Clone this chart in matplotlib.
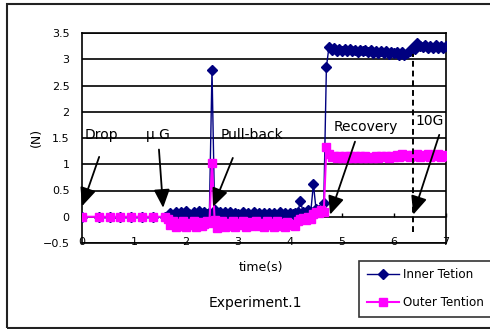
import matplotlib
matplotlib.use("Agg")
import matplotlib.pyplot as plt
from matplotlib.patches import Rectangle

plt.rcParams['font.family'] = ['DejaVu Sans']

# ---- data ---------------------------------------------------------------
# slow logging before release
t_pre = [0.0, 0.32, 0.53, 0.74, 0.95, 1.15, 1.36, 1.60]
inner_pre = [0.0, 0.0, 0.0, 0.0, 0.0, 0.0, 0.0, 0.0]
outer_pre = [0.0, 0.0, 0.0, 0.0, 0.0, 0.0, 0.0, 0.0]

# fast logging during the flight
t_fast = [1.65, 1.70, 1.75, 1.80, 1.85, 1.90, 1.95, 2.00, 2.05, 2.10,
          2.15, 2.20, 2.25, 2.30, 2.35, 2.40, 2.45, 2.50, 2.55, 2.60,
          2.65, 2.70, 2.75, 2.80, 2.85, 2.90, 2.95, 3.00, 3.05, 3.10,
          3.15, 3.20, 3.25, 3.30, 3.35, 3.40, 3.45, 3.50, 3.55, 3.60,
          3.65, 3.70, 3.75, 3.80, 3.85, 3.90, 3.95, 4.00, 4.05, 4.10,
          4.15, 4.20, 4.25, 4.30, 4.35, 4.40, 4.45, 4.50, 4.55, 4.60,
          4.65, 4.70, 4.75, 4.80, 4.85, 4.90, 4.95, 5.00, 5.05, 5.10,
          5.15, 5.20, 5.25, 5.30, 5.35, 5.40, 5.45, 5.50, 5.55, 5.60,
          5.65, 5.70, 5.75, 5.80, 5.85, 5.90, 5.95, 6.00, 6.05, 6.10,
          6.15, 6.20, 6.25, 6.30, 6.35, 6.40, 6.45, 6.50, 6.55, 6.60,
          6.65, 6.70, 6.75, 6.80, 6.85, 6.90, 6.95, 7.00]

inner_fast = [0.02, 0.08, 0.04, 0.10, 0.05, 0.09, 0.03, 0.11, 0.06, 0.04,
              0.10, 0.06, 0.11, 0.04, 0.09, 0.05, 0.08, 2.80, 0.12, 0.05,
              0.10, 0.04, 0.09, 0.05, 0.10, 0.03, 0.08, 0.05, 0.02, 0.09,
              0.04, 0.07, 0.03, 0.09, 0.04, 0.07, 0.02, 0.08, 0.04, 0.07,
              0.03, 0.08, 0.04, 0.09, 0.03, 0.07, 0.04, 0.08, 0.05, 0.07,
              0.09, 0.30, 0.10, 0.08, 0.12, 0.10, 0.62, 0.15, 0.12, 0.10,
              0.27, 2.85, 3.24, 3.17, 3.21, 3.16, 3.20, 3.15, 3.20, 3.16,
              3.19, 3.15, 3.18, 3.14, 3.18, 3.15, 3.17, 3.13, 3.17, 3.12,
              3.16, 3.11, 3.15, 3.12, 3.15, 3.10, 3.14, 3.11, 3.13, 3.09,
              3.13, 3.08, 3.12, 3.15, 3.21, 3.20, 3.31, 3.26, 3.23, 3.27,
              3.22, 3.26, 3.22, 3.27, 3.21, 3.25, 3.22, 3.25]

outer_fast = [-0.05, -0.15, -0.09, -0.19, -0.11, -0.17, -0.08, -0.20, -0.12, -0.16,
              -0.09, -0.19, -0.10, -0.18, -0.13, -0.08, -0.12, 1.02, -0.06, -0.22,
              -0.15, -0.09, -0.19, -0.11, -0.17, -0.08, -0.20, -0.12, -0.16, -0.09,
              -0.19, -0.10, -0.18, -0.13, -0.08, -0.17, -0.11, -0.20, -0.09, -0.16,
              -0.12, -0.19, -0.08, -0.17, -0.11, -0.20, -0.10, -0.16, -0.13, -0.18,
              -0.09, -0.05, -0.02, -0.06, -0.01, -0.04, 0.05, 0.10, 0.07, 0.12,
              0.10, 1.33, 1.19, 1.13, 1.16, 1.11, 1.15, 1.12, 1.16, 1.11,
              1.15, 1.12, 1.16, 1.11, 1.15, 1.12, 1.16, 1.11, 1.14, 1.12,
              1.16, 1.11, 1.15, 1.13, 1.16, 1.12, 1.15, 1.13, 1.18, 1.14,
              1.19, 1.15, 1.18, 1.14, 1.17, 1.15, 1.19, 1.14, 1.18, 1.15,
              1.19, 1.14, 1.18, 1.15, 1.19, 1.14, 1.18, 1.16]

t_inner = t_pre + t_fast
inner = inner_pre + inner_fast
t_outer = t_pre + t_fast
outer = outer_pre + outer_fast

t_10g = 6.37

# event labels: (text, text position, arrow tail, arrow tip)
events = [
    ("Drop",      (0.38, 1.55), (0.33, 1.14), (0.00, 0.20)),
    ("\u03bc G",  (1.46, 1.56), (1.48, 1.28), (1.56, 0.17)),
    ("Pull-back", (3.27, 1.55), (2.90, 1.12), (2.52, 0.19)),
    ("Recovery",  (5.46, 1.70), (5.25, 1.43), (4.77, 0.04)),
    ("10G",       (6.69, 1.83), (6.87, 1.56), (6.37, 0.04)),
]

x_ticks = [0, 1, 2, 3, 4, 5, 6, 7]
y_ticks = [-0.5, 0, 0.5, 1, 1.5, 2, 2.5, 3, 3.5]

inner_color = "#000080"
outer_color = "#FF00FF"

# ---- figure -------------------------------------------------------------
W, H = 490, 329
fig = plt.figure(figsize=(W / 100, H / 100), dpi=100)
fig.patch.set_facecolor("white")

# chart-area frame
fig.patches.append(Rectangle((7 / W, 1 - 328 / H), (W + 10) / W, (328 - 4) / H,
                             transform=fig.transFigure, fill=False,
                             edgecolor="#222222", linewidth=1.5))

ax = fig.add_axes([82 / W, 1 - 243 / H, (446 - 82) / W, (243 - 33) / H])
ax.set_xlim(0, 7)
ax.set_ylim(-0.5, 3.5)

for s in ax.spines.values():
    s.set_linewidth(1.2)
    s.set_color("black")

ax.set_yticks(y_ticks)
ax.set_yticklabels([f"{v:g}".replace("-", "\u2212") if v < 0 else f"{v:g}" for v in y_ticks])
ax.yaxis.grid(True, color="black", linewidth=1.2)
ax.set_axisbelow(True)
ax.tick_params(axis="y", length=0, pad=9, labelsize=8)
ax.set_xticks(x_ticks)
ax.tick_params(axis="x", length=0, pad=-4.5, labelsize=8)

# small tick marks on the zero line
sec = ax.secondary_xaxis(0.125)
sec.set_xticks(x_ticks)
sec.set_xticklabels([])
sec.tick_params(direction="in", length=3, width=1)
sec.spines["bottom"].set_visible(False)

ax.plot(t_inner, inner, color=inner_color, marker="D", markersize=5,
        linewidth=1.0, label="Inner Tetion", zorder=3)
ax.plot(t_outer, outer, color=outer_color, marker="s", markersize=5.5,
        linewidth=1.5, label="Outer Tention", zorder=4)

ax.axvline(t_10g, ymin=0.0525, ymax=0.9, color="black", linestyle=(0, (3, 2)),
           linewidth=1.4, zorder=5)

for text, pos, tail, tip in events:
    ax.text(pos[0], pos[1], text, ha="center", va="center", fontsize=10, zorder=6)
    ax.annotate("", xy=tip, xytext=tail,
                arrowprops=dict(arrowstyle="-|>,head_length=0.8,head_width=0.35",
                                mutation_scale=14, color="black", lw=1.3,
                                shrinkA=0, shrinkB=0), zorder=6)

ax.set_ylabel("(N)", fontsize=9)
ax.yaxis.set_label_coords(-0.108, 0.505)
ax.set_xlabel("time(s)", fontsize=9)
ax.xaxis.set_label_coords(0.492, -0.085)

fig.text(255 / W, 1 - 303 / H, "Experiment.1", ha="center", va="center", fontsize=10)

leg = fig.legend(loc="lower left", bbox_to_anchor=(359 / W, 1 - 317 / H),
                 fontsize=8.6, frameon=True, fancybox=False, borderpad=0.65,
                 handlelength=2.7, handletextpad=0.35, labelspacing=1.25,
                 borderaxespad=0)
leg.get_frame().set_edgecolor("black")
leg.get_frame().set_linewidth(1.2)

fig.savefig("out.png", dpi=100)
